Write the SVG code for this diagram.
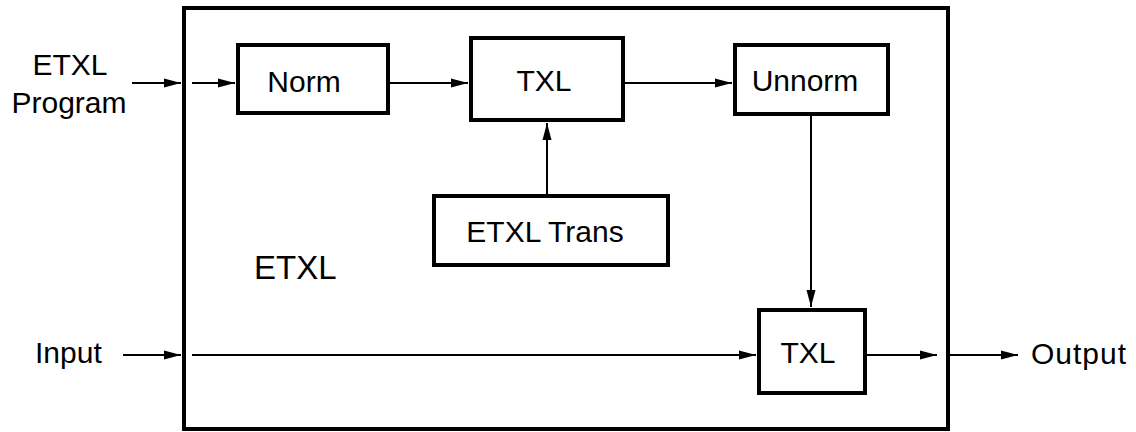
<svg xmlns="http://www.w3.org/2000/svg" width="1136" height="432" viewBox="0 0 1136 432">
  <style>
    .box { fill: #fff; stroke: #000; stroke-width: 4; }
    .frame { fill: none; stroke: #000; stroke-width: 4; }
    .wire { fill: none; stroke: #000; stroke-width: 2; marker-end: url(#head); }
    text { font-family: "Liberation Sans", Arial, sans-serif; font-size: 30px; fill: #000; }
    .mid { text-anchor: middle; }
  </style>
  <defs>
    <marker id="head" viewBox="0 0 17 10" refX="17" refY="5" markerWidth="17" markerHeight="10" markerUnits="userSpaceOnUse" orient="auto">
      <path d="M0,0.5 L17,5 L0,9.5 Z" fill="#000"/>
    </marker>
  </defs>

  <!-- enclosing ETXL system -->
  <g id="etxl-system">
    <rect class="frame" x="184" y="8" width="764" height="421"/>
    <text x="254" y="279" style="font-size:33px">ETXL</text>
  </g>

  <!-- external labels -->
  <g id="etxl-program-label">
    <text class="mid" x="70" y="75">ETXL</text>
    <text class="mid" x="69" y="113">Program</text>
  </g>
  <g id="input-label">
    <text x="35" y="363">Input</text>
  </g>
  <g id="output-label">
    <text x="1031" y="364" style="letter-spacing:1px">Output</text>
  </g>

  <!-- processing stages -->
  <g id="norm">
    <rect class="box" x="238" y="45" width="150" height="68"/>
    <text class="mid" x="304" y="92">Norm</text>
  </g>
  <g id="txl-top">
    <rect class="box" x="471" y="38" width="152" height="82"/>
    <text class="mid" x="544" y="91">TXL</text>
  </g>
  <g id="unnorm">
    <rect class="box" x="735" y="45" width="153" height="69"/>
    <text class="mid" x="805" y="91">Unnorm</text>
  </g>
  <g id="etxl-trans">
    <rect class="box" x="434" y="196" width="234" height="69"/>
    <text class="mid" x="545" y="242">ETXL Trans</text>
  </g>
  <g id="txl-bottom">
    <rect class="box" x="759" y="310" width="106" height="83"/>
    <text class="mid" x="808" y="363">TXL</text>
  </g>

  <!-- connectors -->
  <g id="connectors">
    <line class="wire" x1="132" y1="83" x2="181" y2="83"/>
    <line class="wire" x1="192" y1="83" x2="235" y2="83"/>
    <line class="wire" x1="390" y1="83" x2="468" y2="83"/>
    <line class="wire" x1="625" y1="83" x2="732" y2="83"/>
    <line class="wire" x1="547" y1="196" x2="547" y2="123"/>
    <line class="wire" x1="811" y1="114" x2="811" y2="307"/>
    <line class="wire" x1="123" y1="355" x2="181" y2="355"/>
    <line class="wire" x1="192" y1="355" x2="756" y2="355"/>
    <line class="wire" x1="867" y1="355" x2="937" y2="355"/>
    <line class="wire" x1="950" y1="355" x2="1018" y2="355"/>
  </g>
</svg>
